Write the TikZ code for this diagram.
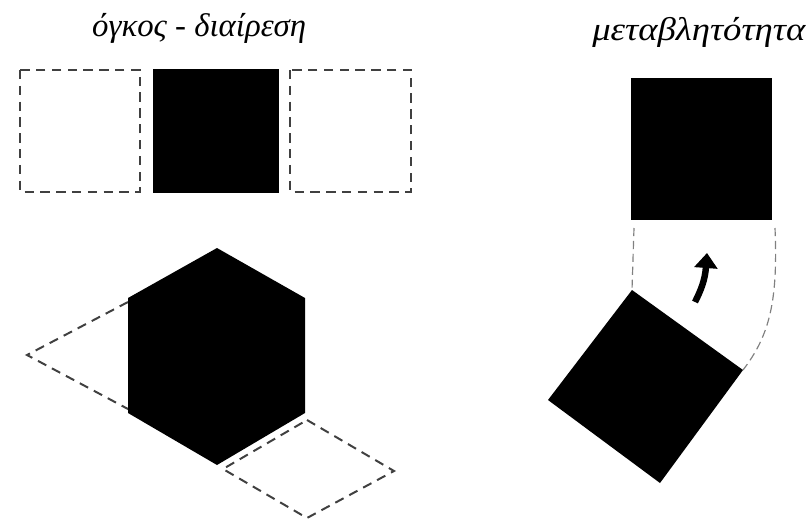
\documentclass[tikz,border=0pt]{standalone}
\usepackage{fontspec}
\setmainfont{Liberation Serif}
\usetikzlibrary{arrows.meta,calc}
\definecolor{ink}{HTML}{000000}
\definecolor{ghost}{HTML}{404040}
\definecolor{trace}{HTML}{808080}
\tikzset{
  solidblock/.style={fill=ink,draw=none},
  ghostline/.style={draw=ghost,line width=1.7pt,dash pattern=on 8pt off 5.5pt},
  traceline/.style={draw=trace,line width=1pt,dash pattern=on 7pt off 4pt},
  heading/.style={font=\itshape\fontsize{28}{30}\selectfont,inner sep=0pt,anchor=base west},
  turnarrow/.style={-{Triangle[length=4.5mm,width=6.8mm]},line width=5.5pt,ink}
}

\begin{document}
\begin{tikzpicture}[x=0.03cm,y=-0.03cm]
    \useasboundingbox (0,0) rectangle (806,520);
    % headings
    \node[heading] (volume) at (92,36) {όγκος - διαίρεση};
    \node[heading,xscale=1.12] (change) at (592,40) {μεταβλητότητα};
    % row of squares
    \draw[ghostline] (20,70) rectangle (140,192);
    \draw[ghostline] (290,70) rectangle (411,192);
    \fill[solidblock] (153,69) rectangle (279,193);
    % hexagon with its two faded faces
    \draw[ghostline] (128,302) -- (27,355) -- (128,409) -- (229,355) -- cycle;
    \draw[ghostline] (307,420) -- (394,471) -- (307,518) -- (223,469) -- cycle;
    \fill[solidblock] (217,248) -- (305,298) -- (305,413) -- (217,465) -- (128,413) -- (128,298) -- cycle;
    % square turning
    \fill[solidblock] (631,78) rectangle (772,220);
    \coordinate (pivot) at (632,290);
    \coordinate (swing) at (743,370);
    \draw[traceline] (634,228) -- (pivot);
    \draw[traceline] (775,228) .. controls (778,300) and (770,335) .. (swing);
    \fill[solidblock] (pivot) -- (swing) -- (660,483) -- (548,400) -- cycle;
    \coordinate (tail) at (695,302);
    \coordinate (tip) at (707,253);
    \draw[turnarrow] (tail) .. controls (701,290) and (705,280) .. (tip);
\end{tikzpicture}
\end{document}
